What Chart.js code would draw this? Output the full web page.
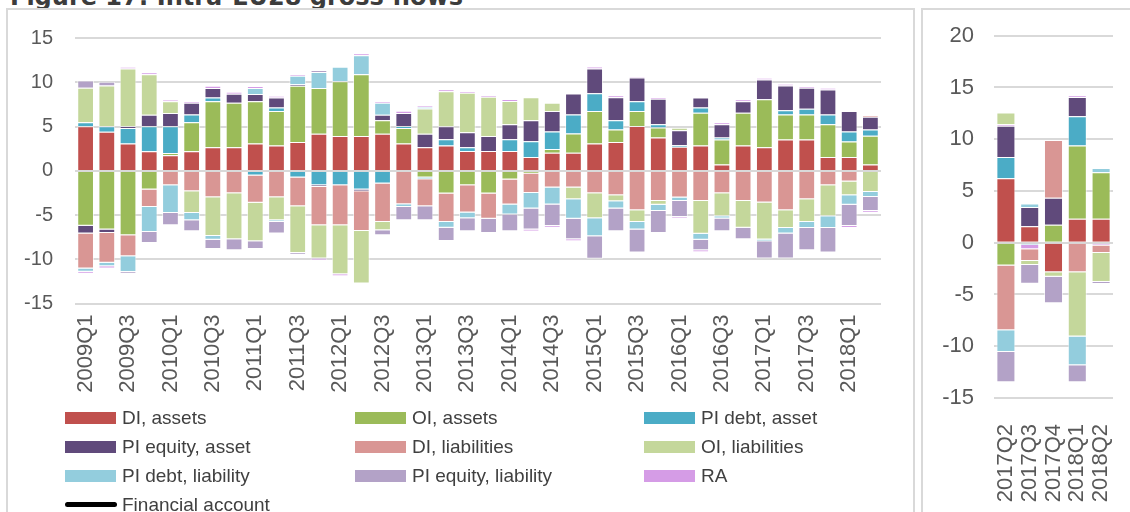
<!DOCTYPE html>
<html>
<head>
<meta charset="utf-8">
<script src="https://cdn.jsdelivr.net/npm/chart.js@4"></script>
<style>
  html, body { margin: 0; padding: 0; background: #fff; }
  body { width: 1130px; height: 512px; overflow: hidden; position: relative; font-family: "Liberation Sans", Arial, sans-serif; }
  #title { position: absolute; left: 10px; top: -17px; font: bold 24px "DejaVu Sans", sans-serif; color: #3c3c3c; white-space: nowrap; }
  .box { position: absolute; border: 2px solid #d9d9d9; }
  #leftBox { left: 6px; top: 8px; width: 905px; height: 600px; }
  #rightBox { left: 921px; top: 8px; width: 300px; height: 600px; }
  #leftChart { position: absolute; left: 8px; top: 10px; }
  #rightChart { position: absolute; left: 923px; top: 10px; }
  #legend { position: absolute; left: 65px; top: 403px; display: grid; grid-template-columns: 290px 289px 220px; grid-auto-rows: 29px; }
  .item { display: flex; align-items: center; font-size: 19px; color: #404040; white-space: nowrap; }
  .sw { width: 51px; height: 12px; margin-right: 6px; flex: none; }
  .ln { width: 52px; height: 5px; border-radius: 3px; background: #000; margin-right: 5px; flex: none; }
</style>
</head>
<body>
<div id="title">Figure 17: Intra-EU28 gross flows</div>
<div class="box" id="leftBox"></div>
<div class="box" id="rightBox"></div>
<canvas id="leftChart" width="904" height="395"></canvas>
<canvas id="rightChart" width="207" height="502"></canvas>
<div id="legend"></div>

<script>
// quarters of the main panel
const quarters = [
  '2009Q1','2009Q2','2009Q3','2009Q4','2010Q1','2010Q2','2010Q3','2010Q4',
  '2011Q1','2011Q2','2011Q3','2011Q4','2012Q1','2012Q2','2012Q3','2012Q4',
  '2013Q1','2013Q2','2013Q3','2013Q4','2014Q1','2014Q2','2014Q3','2014Q4',
  '2015Q1','2015Q2','2015Q3','2015Q4','2016Q1','2016Q2','2016Q3','2016Q4',
  '2017Q1','2017Q2','2017Q3','2017Q4','2018Q1','2018Q2'
];

// series values, main panel
const diAssets = [5.05,4.42,3.09,2.23,1.77,2.23,2.68,2.68,3.09,2.87,3.28,4.19,3.96,3.96,4.19,3.09,2.68,2.87,2.26,2.26,2.26,1.58,2.04,2.04,3.09,3.28,5.09,3.77,2.72,2.87,0.72,2.87,2.68,3.55,3.55,1.58,1.58,0.72];
const oiAssets = [-6.2,-6.64,-7.28,-2.11,0.26,3.28,5.2,5.02,4.79,3.92,6.34,5.2,6.19,6.98,1.55,1.77,-0.75,-2.57,-1.62,-2.57,-0.98,-0.3,0.45,2.19,3.7,1.4,1.7,1.13,0,3.7,2.83,3.7,5.43,2.83,2.83,3.7,1.74,3.25];
const piDebtAsset = [0.45,0.64,1.77,2.83,3.02,0.87,0.42,0,-0.53,0.38,-0.75,-1.62,-1.62,-2.11,-1.43,0.19,-0.19,0.72,0.42,0,1.32,1.77,1.96,2.15,2.0,1.06,1.09,0.38,0.19,0.6,0.23,0,0,0.49,0.64,1.09,1.13,0.72];
const piEquityAsset = [-0.87,-0.38,0.19,1.28,1.51,1.32,1.09,1.02,0.83,1.13,0.19,-0.19,0,-0.19,0.6,1.51,1.51,1.47,1.7,1.7,1.7,2.38,2.34,2.38,2.79,2.6,2.68,2.87,1.7,1.13,1.51,1.32,2.23,2.79,2.38,2.83,2.34,1.43];
const diLiabilities = [-3.96,-3.36,-2.38,-1.96,-1.62,-2.3,-2.98,-2.53,-3.06,-2.98,-3.25,-4.34,-4.53,-4.49,-4.34,-3.77,-3.06,-3.21,-3.09,-2.83,-2.83,-2.19,-1.89,-1.89,-2.53,-2.75,-4.45,-3.4,-3.02,-3.4,-2.53,-3.4,-3.58,-4.45,-3.21,-1.62,-1.21,0.19];
const oiLiabilities = [3.9,4.6,6.53,4.6,1.32,-2.45,-4.38,-5.2,-4.38,-2.6,-5.28,-3.77,-5.55,-5.96,-0.94,0,2.87,3.96,4.45,4.42,2.64,2.6,0.91,-1.32,-2.83,-0.68,-1.32,-0.42,0.26,-3.7,-2.6,-3.02,-4.19,-2.0,-2.57,-3.51,-1.55,-2.38];
const piDebtLiability = [-0.38,-0.42,-1.77,-2.83,-3.13,-0.83,-0.42,0,0.68,-0.19,0.94,1.81,1.62,2.15,1.36,-0.3,0.19,-0.64,-0.64,0,-1.13,-1.77,-1.92,-2.19,-2.04,-0.83,-0.87,-0.72,-0.38,-0.68,-0.26,0,-0.19,-0.64,-0.68,-1.32,-1.06,-0.57];
const piEquityLiability = [0.83,0.42,-0.19,-1.25,-1.4,-1.25,-1.06,-1.25,-0.87,-1.32,-0.19,0.19,0,0,-0.57,-1.51,-1.58,-1.51,-1.47,-1.62,-1.89,-2.38,-2.42,-2.34,-2.53,-2.57,-2.6,-2.49,-1.81,-1.21,-1.43,-1.32,-1.96,-2.83,-2.53,-2.79,-2.42,-1.58];
const ra = [-0.2,-0.23,0.19,0.19,0.19,0.19,0.23,0.23,0.19,0.19,0.19,-0.19,-0.19,0.23,0.19,0.25,0.19,0.19,0.19,0.19,0.19,-0.19,-0.19,-0.19,0.23,0.19,0.15,0.19,-0.15,-0.19,0.19,0.19,0.19,0.19,0.19,0.19,-0.19,-0.19];

// small panel on the right
const zoomQuarters = ['2017Q2','2017Q3','2017Q4','2018Q1','2018Q2'];
const zoomDiAssets = [6.24,1.58,-2.86,2.32,2.32];
const zoomOiAssets = [-2.19,0,1.74,7.07,4.5];
const zoomPiDebtAsset = [2.03,-0.19,0,2.83,0];
const zoomPiEquityAsset = [3.02,1.86,2.6,1.86,0];
const zoomRa = [0.15,-0.45,0,0.16,-0.26];
const zoomDiLiabilities = [-6.27,-1.13,5.59,-2.86,-0.74];
const zoomOiLiabilities = [1.13,-0.39,-0.42,-6.21,-2.8];
const zoomPiDebtLiability = [-2.09,0.35,0,-2.77,0.39];
const zoomPiEquityLiability = [-2.93,-1.8,-2.57,-1.64,-0.19];

const seriesNames = ['DI, assets','OI, assets','PI debt, asset','PI equity, asset','DI, liabilities','OI, liabilities','PI debt, liability','PI equity, liability','RA'];
const lineName = 'Financial account';

const leftMin = -15, leftMax = 15;
const rightMin = -15, rightMax = 20;

// styles
const colors = {
  'DI, assets': '#c0504d',
  'OI, assets': '#9bbb59',
  'PI debt, asset': '#4bacc6',
  'PI equity, asset': '#604a7b',
  'DI, liabilities': '#d99694',
  'OI, liabilities': '#c4d79b',
  'PI debt, liability': '#93cddd',
  'PI equity, liability': '#b3a2c7',
  'RA': '#d59ce6'
};

function makeSet(name, values, barPct) {
  return {
    label: name,
    data: values,
    backgroundColor: colors[name],
    borderColor: 'rgba(255,255,255,0.6)',
    borderWidth: c => (c.raw ? 1 : 0),
    barPercentage: barPct,
    categoryPercentage: 1
  };
}

// drop the side margins Chart.js reserves for rotated labels
function noSideMargins(s, h) {
  s.height = h;
  s.paddingLeft = 0;
  s.paddingRight = 0;
}

// the y scale's own top padding decides where the plot starts
function fixY(s, w, top) {
  s.width = w;
  s.paddingTop = top;
  s.paddingBottom = 0;
}

Chart.defaults.font.family = '"Liberation Sans", Arial, sans-serif';
Chart.defaults.color = '#595959';

const mainValues = [diAssets, oiAssets, piDebtAsset, piEquityAsset, diLiabilities, oiLiabilities, piDebtLiability, piEquityLiability, ra];

const leftChart = new Chart(document.getElementById('leftChart'), {
  type: 'bar',
  data: {
    labels: quarters,
    datasets: seriesNames.map((n, i) => makeSet(n, mainValues[i], 0.79))
  },
  options: {
    responsive: false,
    animation: false,
    layout: { padding: { top: 0, right: 31, left: 0, bottom: 0 } },
    plugins: { legend: { display: false }, tooltip: { enabled: false } },
    scales: {
      x: {
        stacked: true,
        grid: { display: false },
        border: { display: false },
        ticks: {
          autoSkip: false, minRotation: 90, maxRotation: 90, padding: 3,
          font: { size: 22 },
          callback: function (v, i) { return i % 2 === 0 ? this.getLabelForValue(v) : ''; }
        },
        afterFit: s => noSideMargins(s, 101.5)
      },
      y: {
        stacked: true,
        min: leftMin, max: leftMax,
        border: { display: false },
        grid: { color: '#d9d9d9', lineWidth: 2, drawTicks: false },
        ticks: { stepSize: 5, padding: 22, font: { size: 20 } },
        afterFit: s => fixY(s, 67, 28.3)
      }
    }
  }
});

// right panel keeps RA fifth in its stacking order
const zoomNames = ['DI, assets','OI, assets','PI debt, asset','PI equity, asset','RA','DI, liabilities','OI, liabilities','PI debt, liability','PI equity, liability'];
const zoomValues = [zoomDiAssets, zoomOiAssets, zoomPiDebtAsset, zoomPiEquityAsset, zoomRa, zoomDiLiabilities, zoomOiLiabilities, zoomPiDebtLiability, zoomPiEquityLiability];

new Chart(document.getElementById('rightChart'), {
  type: 'bar',
  data: {
    labels: zoomQuarters,
    datasets: zoomNames.map((n, i) => makeSet(n, zoomValues[i], 0.8))
  },
  options: {
    responsive: false,
    animation: false,
    layout: { padding: { top: 0, right: 17, left: 0, bottom: 0 } },
    plugins: { legend: { display: false }, tooltip: { enabled: false } },
    scales: {
      x: {
        stacked: true,
        grid: { display: false },
        border: { display: false },
        ticks: { autoSkip: false, minRotation: 90, maxRotation: 90, padding: 18, font: { size: 22 } },
        afterFit: s => noSideMargins(s, 114)
      },
      y: {
        stacked: true,
        min: rightMin, max: rightMax,
        border: { display: false },
        grid: { color: '#d9d9d9', lineWidth: 2, drawTicks: false },
        ticks: { stepSize: 5, padding: 20, font: { size: 22 } },
        afterFit: s => fixY(s, 71, 25.7)
      }
    }
  }
});

// legend built from the main chart's datasets
const legend = document.getElementById('legend');
leftChart.data.datasets.forEach(ds => {
  const it = document.createElement('div');
  it.className = 'item';
  it.innerHTML = '<span class="sw" style="background:' + ds.backgroundColor + '"></span>' + ds.label;
  legend.appendChild(it);
});
const lineItem = document.createElement('div');
lineItem.className = 'item';
lineItem.innerHTML = '<span class="ln"></span>' + lineName;
legend.appendChild(lineItem);
</script>
</body>
</html>
